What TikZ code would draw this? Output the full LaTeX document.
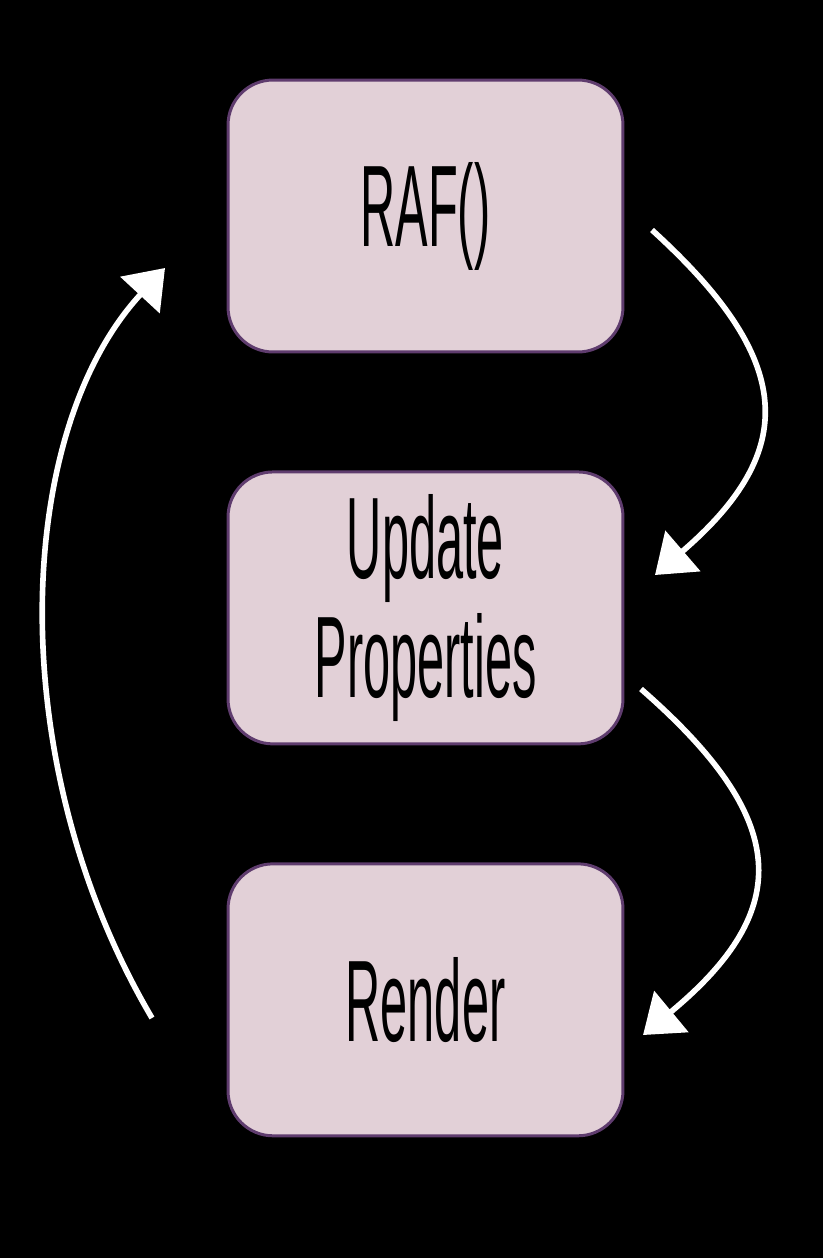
\documentclass[tikz,border=0pt]{standalone}
\usepackage{fontspec}
\newfontfamily\handfont[FakeStretch=0.42]{Liberation Sans}
\usetikzlibrary{positioning,arrows.meta}
\definecolor{stagefill}{HTML}{E2D0D7}
\definecolor{stageline}{HTML}{5F3C6E}
\begin{document}
\begin{tikzpicture}[x=0.02cm,y=-0.02cm,
  stage/.style={draw=stageline,line width=1.7pt,fill=stagefill,rounded corners=0.9cm,
    minimum width=7.9cm,minimum height=5.44cm,align=center,
    font=\handfont\fontsize{66}{68}\selectfont},
  looparrow/.style={white,line width=3.2pt,-{Triangle[length=21pt,width=30pt]}}]
\fill [black] (0,0) rectangle (823,1258);
\useasboundingbox (0,0) rectangle (823,1258);
% the three stages
\node [stage] (raf) at (425.5,216) {RAF()};
\node [stage,below=2.34cm of raf] (update) {Update\\Properties};
\node [stage,below=2.34cm of update] (render) {Render};
% ends of the loop arrows
\coordinate (rafout) at (652,230);
\coordinate (updatein) at (655,575);
\coordinate (updateout) at (641,689);
\coordinate (renderin) at (643,1035);
\coordinate (renderout) at (152,1018);
\coordinate (rafin) at (165,268);
\draw [looparrow] (rafout) .. controls (795,360) and (800,450) .. (updatein);
\draw [looparrow] (updateout) .. controls (790,819) and (795,909) .. (renderin);
\draw [looparrow] (renderout) .. controls (0,760) and (15,430) .. (rafin);
\end{tikzpicture}
\end{document}
